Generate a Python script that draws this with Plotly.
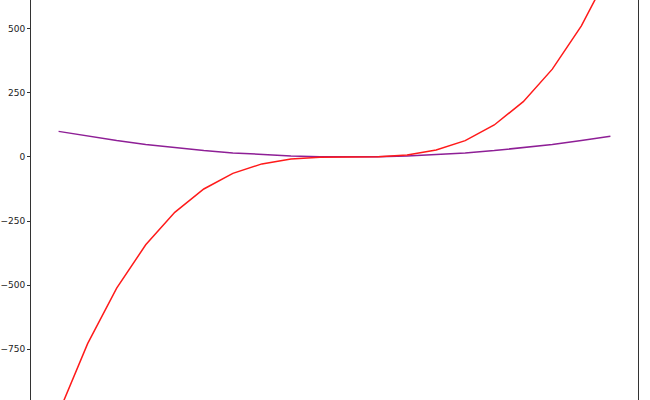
import plotly.graph_objects as go

x_values = [-10, -9, -8, -7, -6, -5, -4, -3, -2, -1, 0, 1, 2, 3, 4, 5, 6, 7, 8, 9]
squares = [100, 81, 64, 49, 36, 25, 16, 9, 4, 1, 0, 1, 4, 9, 16, 25, 36, 49, 64, 81]
cubes = [-1000, -729, -512, -343, -216, -125, -64, -27, -8, -1, 0, 1, 8, 27, 64, 125, 216, 343, 512, 729]
y_ticks = [-750, -500, -250, 0, 250, 500]

fig = go.Figure()
fig.add_trace(go.Scatter(x=x_values, y=squares, mode='lines',
                         line=dict(color='#8e1f96', width=1.5)))
fig.add_trace(go.Scatter(x=x_values, y=cubes, mode='lines',
                         line=dict(color='#ff1a1a', width=1.5)))

fig.update_layout(
    width=650, height=400,
    margin=dict(l=31, r=12, t=0, b=0, pad=0),
    plot_bgcolor='white', paper_bgcolor='white',
    showlegend=False,
    font=dict(family='DejaVu Sans', size=9, color='#222222'),
)
fig.update_xaxes(range=[-10.95, 9.95], showgrid=False, zeroline=False,
                 showticklabels=False, ticks='', automargin=False)
fig.update_yaxes(range=[-949, 613], showgrid=False, zeroline=False, automargin=False,
                 tickvals=y_ticks, ticks='outside', ticklen=3, tickcolor='#333333',
                 showline=True, mirror=True, linecolor='#333333', linewidth=1)

# the page body has an 8px default margin; drop it so the figure sits at 0,0
fig.write_html("out.html", config={'displayModeBar': False},
               post_script="document.body.style.margin='0';")
